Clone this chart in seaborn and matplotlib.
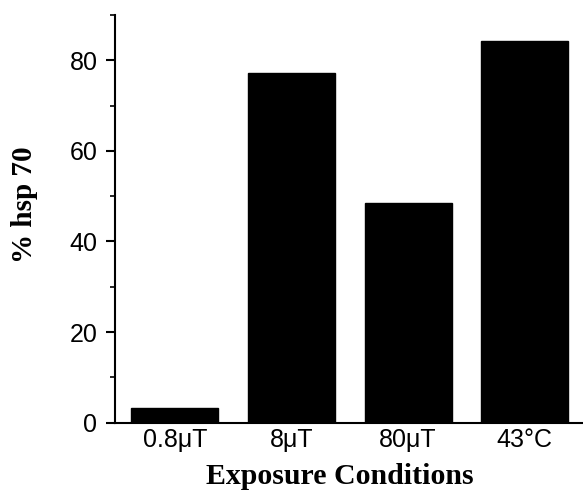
import matplotlib
matplotlib.use("Agg")
import matplotlib.pyplot as plt
import seaborn as sns
import pandas as pd
from matplotlib.ticker import MultipleLocator

conditions = ["0.8\u03bcT", "8\u03bcT", "80\u03bcT", "43\u00b0C"]
hsp70 = [3.2, 77.3, 48.4, 84.3]

df = pd.DataFrame({"cond": conditions, "val": hsp70})

sns.set_style("ticks")
plt.rcParams['font.family'] = ['Liberation Sans', 'DejaVu Sans']
plt.rcParams['text.color'] = 'black'
plt.rcParams['axes.labelcolor'] = 'black'

fig = plt.figure(figsize=(5.83, 4.93), dpi=100)
ax = fig.add_axes([0.197, 0.1426, 0.803, 0.827])
sns.barplot(data=df, x="cond", y="val", color="black", width=0.745,
            saturation=1, ax=ax, edgecolor="black")
ax.set_xlim(-0.515, 3.5)
ax.set_ylim(0, 90)
ax.yaxis.set_major_locator(MultipleLocator(20))
ax.yaxis.set_minor_locator(MultipleLocator(10))
ax.tick_params(axis='y', which='major', length=6.5, width=1.5, labelsize=18,
               color='black', labelcolor='black', pad=6)
ax.tick_params(axis='y', which='minor', length=3.5, width=1.2, color='black')
ax.tick_params(axis='x', length=0, labelsize=18, labelcolor='black', pad=4)
for s in ["top", "right"]:
    ax.spines[s].set_visible(False)
for s in ["left", "bottom"]:
    ax.spines[s].set_linewidth(1.5)
    ax.spines[s].set_color("black")
ax.set_xlabel("Exposure Conditions", fontsize=21.5, fontweight="bold",
              family=["Liberation Serif", "DejaVu Serif"], labelpad=6)
ax.xaxis.set_label_coords(0.48, -0.1, transform=ax.transAxes)
ax.set_ylabel("% hsp 70", fontsize=21, fontweight="bold",
              family=["Liberation Serif", "DejaVu Serif"], labelpad=8)
ax.yaxis.set_label_coords(-0.165, 0.535, transform=ax.transAxes)
ax.xaxis.label.set_verticalalignment('top')
fig.savefig("out.png", dpi=100)
